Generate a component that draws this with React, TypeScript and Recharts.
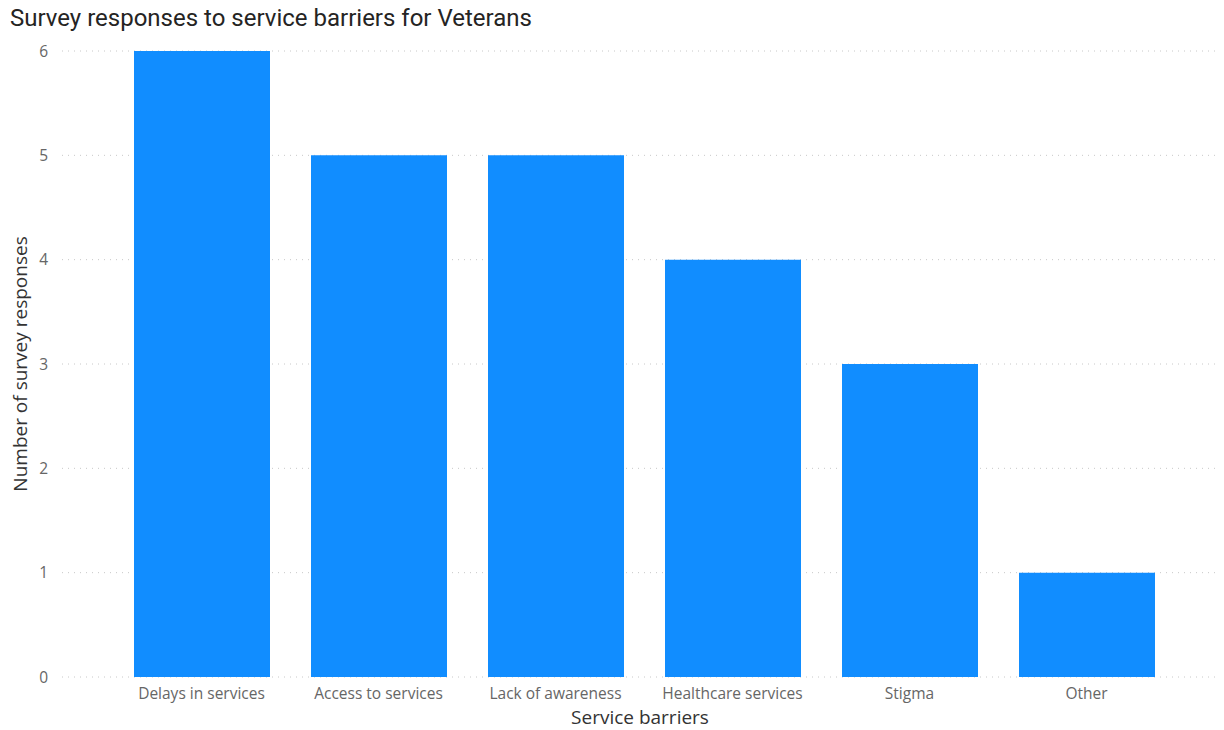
import { BarChart, Bar, XAxis, YAxis, CartesianGrid } from "recharts";

const barriers = [
  "Delays in services",
  "Access to services",
  "Lack of awareness",
  "Healthcare services",
  "Stigma",
  "Other",
];
const responses = [6, 5, 5, 4, 3, 1];
const yTicks = [0, 1, 2, 3, 4, 5, 6];

const data = barriers.map((name, i) => ({ name, responses: responses[i] }));

const tickStyle = { fill: "#666666", fontSize: 15.5, fontFamily: "'Open Sans', sans-serif" };
const labelStyle = { fill: "#333333", fontSize: 19, fontFamily: "'Open Sans', sans-serif" };

export default function App() {
  return (
    <div style={{ position: "absolute", left: 0, top: 0, width: 1224, height: 730, background: "#fff" }}>
      <div
        style={{
          position: "absolute",
          left: 10,
          top: 4,
          fontFamily: "Roboto, 'Open Sans', sans-serif",
          fontSize: 24,
          color: "#252423",
          whiteSpace: "nowrap",
        }}
      >
        Survey responses to service barriers for Veterans
      </div>
      <BarChart
        width={1224}
        height={730}
        data={data}
        margin={{ top: 51, right: 6, left: 10, bottom: 0 }}
      >
        <CartesianGrid vertical={false} stroke="#c8c8c8" strokeDasharray="1 5" />
        <XAxis
          dataKey="name"
          axisLine={false}
          tickLine={false}
          tick={tickStyle}
          tickMargin={5}
          padding={{ left: 51, right: 43 }}
          interval={0}
          label={{ value: "Service barriers", position: "insideBottom", offset: 6, style: labelStyle }}
          height={53}
        />
        <YAxis
          width={52}
          domain={[0, 6]}
          ticks={yTicks}
          axisLine={false}
          tickLine={false}
          tick={tickStyle}
          tickMargin={8}
          label={{
            value: "Number of survey responses",
            angle: -90,
            position: "insideLeft",
            offset: 0,
            dx: 10,
            style: { ...labelStyle, textAnchor: "middle" },
          }}
        />
        <Bar dataKey="responses" fill="#118DFF" barSize={136} isAnimationActive={false} />
      </BarChart>
    </div>
  );
}
